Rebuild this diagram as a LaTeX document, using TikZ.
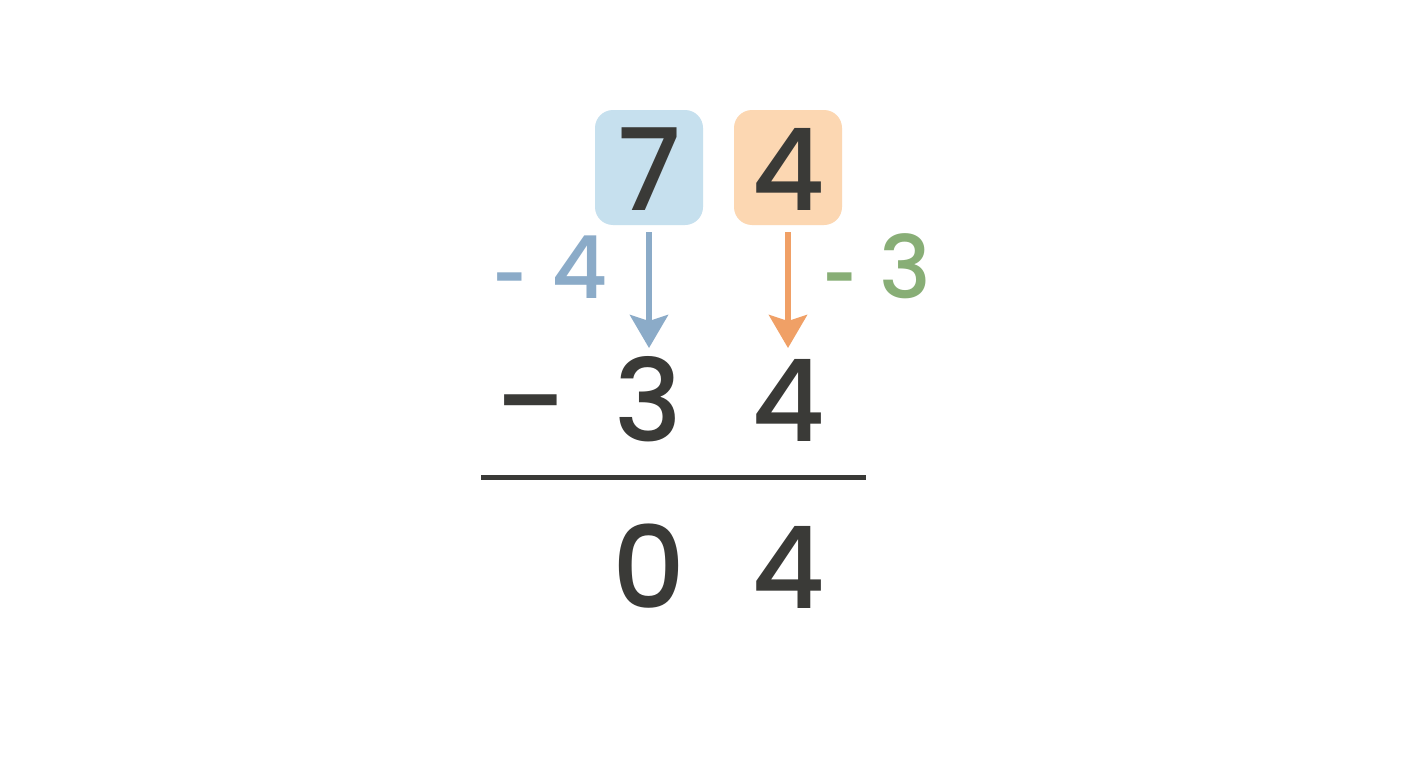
\documentclass[tikz,border=0pt]{standalone}
\usepackage{fontspec}
\setmainfont{Poppins}[UprightFont=* Medium]
\usetikzlibrary{arrows.meta}
\definecolor{ink}{HTML}{3A3A37}
\definecolor{boxblue}{HTML}{C6E0EE}
\definecolor{boxorange}{HTML}{FCD7B2}
\definecolor{arrblue}{HTML}{8BABC8}
\definecolor{arrorange}{HTML}{F0A066}
\definecolor{labgreen}{HTML}{88AE76}
\begin{document}
\begin{tikzpicture}[x=1pt,y=-1pt,
  digit/.style={inner sep=0pt,anchor=base,text=ink,font=\fontsize{114}{114}\selectfont},
  lab/.style={inner sep=0pt,anchor=base,font=\fontsize{87}{87}\selectfont},
  digbox/.style={rounded corners=18pt,minimum width=108pt,minimum height=115pt,inner sep=0pt},
  downarrow/.style={line width=5.5pt,-{Stealth[length=33pt,width=38pt,inset=6pt]}}]
\fill[white] (0,0) rectangle (1408,768);
\useasboundingbox (0,0) rectangle (1408,768);
% boxes
\node[digbox,fill=boxblue] (b7) at (649,167.5) {};
\node[digbox,fill=boxorange] (b4) at (788,167.5) {};
\node[digit] (t7) at (649,210) {7};
\node[digit] (t4) at (788,210) {4};
% labels
\node[lab,text=arrblue,xscale=0.68] (l4d) at (510,308) {-};
\node[lab,text=arrblue] (l4) at (580,298) {4};
\node[lab,text=labgreen,xscale=0.68] (l3d) at (840,308) {-};
\node[lab,text=labgreen] (l3) at (905,298) {3};
% arrows
\coordinate (a1s) at (649,232);
\coordinate (a1e) at (649,348);
\coordinate (a2s) at (788,232);
\coordinate (a2e) at (788,348);
\draw[downarrow,draw=arrblue,fill=arrblue] (a1s) -- (a1e);
\draw[downarrow,draw=arrorange,fill=arrorange] (a2s) -- (a2e);
% second row
\node[digit,xscale=1.12] (m) at (531,441) {−};
\node[digit] (s3) at (648,441) {3};
\node[digit] (s4) at (788,441) {4};
% rule
\coordinate (r1) at (481,477);
\coordinate (r2) at (866,477);
\draw[line width=5pt,ink] (r1) -- (r2);
% result
\node[digit] (r0) at (649,608) {0};
\node[digit] (rr4) at (788,608) {4};
\end{tikzpicture}
\end{document}
